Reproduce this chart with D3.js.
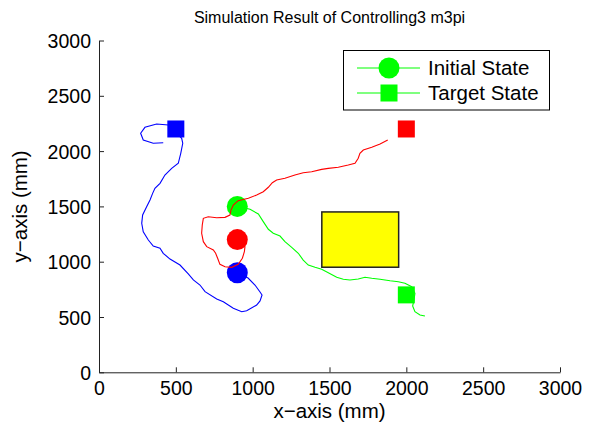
<!DOCTYPE html>
<html><head><meta charset="utf-8">
<script src="https://cdn.jsdelivr.net/npm/d3@7"></script>
<style>
body{margin:0;background:#fff;}
text{font-family:"Liberation Sans",Arial,Helvetica,sans-serif;fill:#000;}
</style></head>
<body><svg id="c" width="598" height="434"></svg>
<script>
const title = "Simulation Result of Controlling3 m3pi";
const xLabel = "x\u2212axis (mm)";
const yLabel = "y\u2212axis (mm)";
const xTicks = [0,500,1000,1500,2000,2500,3000];
const yTicks = [0,500,1000,1500,2000,2500,3000];
const legendLabels = ["Initial State","Target State"];

// trajectories [x, y] in mm
const bluePath = [[900,900],[970,852],[1015,789],[1048,726],[1061,699],[1048,645],[1026,608],[961,557],[929,548],[874,579],[809,638],[766,663],[690,729],[657,789],[614,835],[581,889],[527,970],[462,1024],[418,1076],[397,1121],[353,1142],[321,1196],[288,1271],[278,1347],[284,1422],[310,1497],[332,1558],[349,1618],[364,1664],[397,1709],[429,1784],[473,1844],[516,1890],[532,1980],[545,2071],[538,2116],[516,2146],[480,2200],[451,2236],[375,2245],[299,2215],[271,2161],[288,2100],[353,2071],[418,2076]];
const redPath = [[900,1200],[950,1136],[946,1090],[933,1031],[906,976],[864,949],[820,955],[787,976],[772,1031],[759,1076],[744,1106],[701,1136],[679,1181],[668,1257],[672,1332],[679,1392],[711,1407],[766,1398],[820,1401],[852,1422],[859,1467],[874,1513],[906,1552],[972,1573],[1026,1603],[1069,1633],[1102,1673],[1128,1714],[1156,1739],[1210,1754],[1275,1784],[1329,1805],[1384,1814],[1449,1835],[1492,1844],[1557,1854],[1622,1874],[1666,1890],[1687,1935],[1698,1980],[1720,2010],[1775,2034],[1829,2064],[1879,2100]];
const greenPath = [[900,1500],[983,1474],[1037,1431],[1069,1362],[1102,1293],[1134,1257],[1178,1232],[1210,1181],[1254,1130],[1297,1076],[1329,1015],[1362,970],[1406,949],[1449,931],[1492,901],[1547,859],[1590,841],[1633,835],[1687,844],[1731,859],[1775,850],[1829,841],[1894,828],[1948,819],[1991,805],[2035,774],[2056,714],[2050,654],[2041,599],[2056,548],[2089,518],[2121,509]];
const robots = ["blue","red","green"];
const colors = ["#0000ff","#ff0000","#00ff00"];
const initX = [900,900,900];
const initY = [900,1200,1500];
const targetX = [500,2000,2000];
const targetY = [2200,2200,700];
// obstacle [x0, x1, y0, y1]
const obstacle = [1450,1950,950,1450];

const svg = d3.select("#c");
const L=99, R=560, T=40.5, B=372.3;
const x = d3.scaleLinear().domain([0,3000]).range([L,R]);
const y = d3.scaleLinear().domain([0,3000]).range([B,T]);

// axes
const fmt = d3.format("d");
const xAxis = d3.axisBottom(x).tickValues(xTicks).tickFormat(fmt).tickSizeInner(-5).tickSizeOuter(0).tickPadding(9);
const yAxis = d3.axisLeft(y).tickValues(yTicks).tickFormat(fmt).tickSizeInner(-5).tickSizeOuter(0).tickPadding(8);
const gx = svg.append("g").attr("transform",`translate(0,${B})`).call(xAxis);
const gy = svg.append("g").attr("transform",`translate(${L},0)`).call(yAxis);
[gx,gy].forEach(g=>{
  g.select(".domain").attr("stroke","#222").attr("stroke-width",1);
  g.selectAll(".tick line").attr("stroke","#222");
  g.selectAll(".tick text").attr("font-size",19.5).attr("font-family","Liberation Sans, Arial, sans-serif").attr("fill","#000");
});
gy.selectAll(".tick text").attr("dy","0.36em");

// obstacle
svg.append("rect").attr("x",x(obstacle[0])).attr("y",y(obstacle[3]))
  .attr("width",x(obstacle[1])-x(obstacle[0])).attr("height",y(obstacle[2])-y(obstacle[3]))
  .attr("fill","#ffff00").attr("stroke","#222").attr("stroke-width",1.5);

const rC = 10.5, sS = 17;
robots.forEach((r,i)=>{
  svg.append("circle").attr("cx",x(initX[i])).attr("cy",y(initY[i])).attr("r",rC).attr("fill",colors[i]);
  svg.append("rect").attr("x",x(targetX[i])-sS/2).attr("y",y(targetY[i])-sS/2).attr("width",sS).attr("height",sS).attr("fill",colors[i]);
});
const line = d3.line().x(d=>x(d[0])).y(d=>y(d[1]));
[bluePath,redPath,greenPath].forEach((p,i)=>{
  svg.append("path").attr("d",line(p)).attr("fill","none").attr("stroke",colors[i]).attr("stroke-width",1.1);
});

// title & labels
svg.append("text").attr("x",(L+R)/2).attr("y",23).attr("text-anchor","middle").attr("font-size",16).text(title);
svg.append("text").attr("x",(L+R)/2).attr("y",418).attr("text-anchor","middle").attr("font-size",20.5).text(xLabel);
svg.append("text").attr("transform",`translate(27,${(T+B)/2}) rotate(-90)`).attr("text-anchor","middle").attr("font-size",20.5).text(yLabel);

// legend
const lg = svg.append("g");
lg.append("rect").attr("x",343.5).attr("y",50.5).attr("width",206).attr("height",59.5).attr("fill","#fff").attr("stroke","#000").attr("stroke-width",1);
legendLabels.forEach((t,i)=>{
  const cy = 68 + i*25;
  lg.append("line").attr("x1",357).attr("x2",420).attr("y1",cy).attr("y2",cy).attr("stroke","#00ff00").attr("stroke-width",1.1);
  if(i===0) lg.append("circle").attr("cx",389).attr("cy",cy).attr("r",rC).attr("fill","#00ff00");
  else lg.append("rect").attr("x",389-sS/2).attr("y",cy-sS/2).attr("width",sS).attr("height",sS).attr("fill","#00ff00");
  lg.append("text").attr("x",428).attr("y",cy+7).attr("font-size",20.5).text(t);
});
</script></body></html>
